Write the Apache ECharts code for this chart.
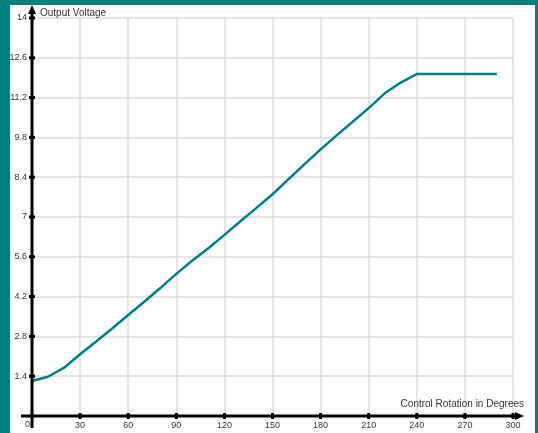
<!DOCTYPE html>
<html>
<head>
<meta charset="utf-8">
<script src="https://cdn.jsdelivr.net/npm/echarts@6/dist/echarts.min.js"></script>
<style>
html,body{margin:0;padding:0;background:#008080;}
#c{width:538px;height:433px;}
</style>
</head>
<body>
<div id="c"></div>
<script>
var degrees = [0,10,20,30,40,50,60,70,80,90,100,110,120,130,140,150,160,170,180,190,200,210,220,230,240,250,260,270,280,290];
var voltage = [1.23,1.38,1.7,2.17,2.62,3.08,3.55,4.02,4.5,5.0,5.47,5.9,6.37,6.85,7.32,7.8,8.33,8.86,9.38,9.87,10.35,10.83,11.35,11.73,12.03,12.03,12.03,12.03,12.03,12.03];
var xTicks = [0,30,60,90,120,150,180,210,240,270,300];
var yTicks = [0,1.4,2.8,4.2,5.6,7,8.4,9.8,11.2,12.6,14];
var xTitle = 'Control Rotation in Degrees';
var yTitle = 'Output Voltage';

var chart = echarts.init(document.getElementById('c'), null, {renderer:'canvas'});
var font = '"Liberation Sans", Arial, sans-serif';
var option = {
  backgroundColor: '#008080',
  animation: false,
  grid: {left: 32, right: 25, top: 18, bottom: 17, containLabel: false},
  xAxis: {
    type: 'value', min: 0, max: 300, interval: 30,
    axisLine: {show: false},
    axisTick: {show: false},
    splitLine: {show: true, lineStyle: {color: '#dcdcdc', width: 1.5}},
    axisLabel: {color: '#333', fontSize: 9, fontFamily: font, margin: 5,
      formatter: function(v){ return v === 0 ? '' : String(v); }}
  },
  yAxis: {
    type: 'value', min: 0, max: 14, interval: 1.4,
    axisLine: {show: false},
    axisTick: {show: false},
    splitLine: {show: true, lineStyle: {color: '#dcdcdc', width: 1.5}},
    axisLabel: {color: '#333', fontSize: 9, fontFamily: font, margin: 5,
      formatter: function(v){ return v === 0 ? '' : String(Math.round(v*10)/10); }}
  },
  series: [{
    type: 'line',
    data: degrees.map(function(d,i){ return [d, voltage[i]]; }),
    symbol: 'none',
    lineStyle: {color: '#008080', width: 2.5},
    z: 3
  }]
};
chart.setOption(option);

var o = chart.convertToPixel({gridIndex:0}, [0,0]);
var xe = chart.convertToPixel({gridIndex:0}, [300,0]);
var ye = chart.convertToPixel({gridIndex:0}, [0,14]);
var g = [];
g.push({type:'rect', shape:{x:10, y:5, width:525, height:433}, style:{fill:'#ffffff'}, z:-10, silent:true});
// axes
g.push({type:'line', shape:{x1:o[0], y1:o[1]+12, x2:o[0], y2:ye[1]-8}, style:{stroke:'#000', lineWidth:3}, z:10});
g.push({type:'polygon', shape:{points:[[o[0],ye[1]-13],[o[0]-4,ye[1]-4],[o[0]+4,ye[1]-4]]}, style:{fill:'#000'}, z:10});
g.push({type:'line', shape:{x1:o[0]-11, y1:o[1], x2:xe[0]+6, y2:o[1]}, style:{stroke:'#000', lineWidth:3}, z:10});
g.push({type:'polygon', shape:{points:[[xe[0]+11,o[1]],[xe[0]+2,o[1]-4],[xe[0]+2,o[1]+4]]}, style:{fill:'#000'}, z:10});
// tick marks
xTicks.forEach(function(t){
  if (t === 0) return;
  var p = chart.convertToPixel({gridIndex:0}, [t,0]);
  g.push({type:'rect', shape:{x:p[0]-1.5, y:p[1]-3, width:3, height:6}, style:{fill:'#000'}, z:11});
});
yTicks.forEach(function(t){
  if (t === 0) return;
  var p = chart.convertToPixel({gridIndex:0}, [0,t]);
  g.push({type:'rect', shape:{x:p[0]-3, y:p[1]-1.5, width:6, height:3}, style:{fill:'#000'}, z:11});
});
// origin label
g.push({type:'text', x:o[0]-2, y:o[1]+4, style:{text:'0', fill:'#333', font:'9px '+font, textAlign:'right', textVerticalAlign:'top'}, z:11});
// titles
g.push({type:'text', x:o[0]+8, y:ye[1]-5, style:{text:yTitle, fill:'#333', font:'10px '+font, textAlign:'left', textVerticalAlign:'middle'}, z:11});
g.push({type:'text', x:xe[0]+11, y:o[1]-12, style:{text:xTitle, fill:'#333', font:'10px '+font, textAlign:'right', textVerticalAlign:'middle'}, z:11});
chart.setOption({graphic: g});
</script>
</body>
</html>
